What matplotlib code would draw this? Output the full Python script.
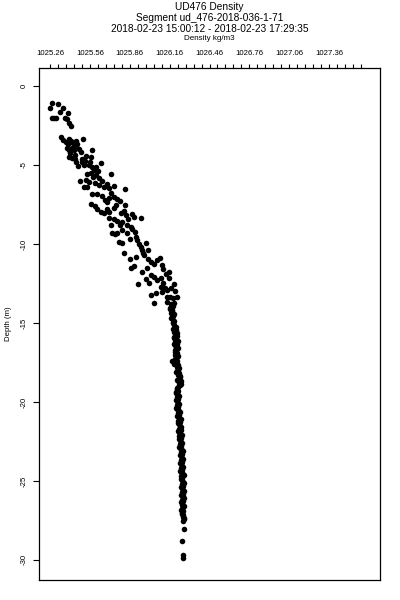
import numpy as np
import matplotlib
matplotlib.use("Agg")
import matplotlib.pyplot as plt

plt.rcParams['font.family'] = ['Liberation Sans', 'DejaVu Sans']

title_lines = ["UD476 Density",
               "Segment ud_476-2018-036-1-71",
               "2018-02-23 15:00:12 - 2018-02-23 17:29:35"]
x_label = "Density kg/m3"
y_label = "Depth (m)"
x_tick_labels = ["1025.26", "1025.56", "1025.86", "1026.16",
                 "1026.46", "1026.76", "1027.06", "1027.36"]
y_ticks = [0, -5, -10, -15, -20, -25, -30]

# upper, scattered part of the profile
upper_density = [
    1025.260, 1025.273, 1025.322, 1025.360, 1025.335, 1025.273, 1025.290, 1025.307,
    1025.373, 1025.390, 1025.395, 1025.403, 1025.420, 1025.340, 1025.360, 1025.403,
    1025.418, 1025.433, 1025.448, 1025.403, 1025.425, 1025.440, 1025.478, 1025.510,
    1025.578, 1025.566, 1025.403, 1025.425, 1025.448, 1025.500, 1025.453, 1025.470,
    1025.498, 1025.516, 1025.553, 1025.576, 1025.591, 1025.641, 1025.623, 1025.566,
    1025.583, 1025.604, 1025.716, 1025.486, 1025.531, 1025.553, 1025.653, 1025.516,
    1025.538, 1025.628, 1025.666, 1025.704, 1025.741, 1025.822, 1025.576, 1025.613,
    1025.741, 1025.764, 1025.674, 1025.689, 1025.566, 1025.759, 1025.822, 1025.613,
    1025.689, 1025.700, 1025.666, 1025.641, 1025.792, 1025.829, 1025.877, 1025.892,
    1025.741, 1025.764, 1025.786, 1025.801, 1025.716, 1025.942, 1025.839, 1025.867,
    1025.726, 1025.749, 1025.764, 1025.779, 1025.801, 1025.904, 1025.914, 1025.929,
    1025.944, 1025.954, 1025.979, 1025.817, 1025.904, 1025.967, 1025.997, 1026.020,
    1026.042, 1026.065, 1026.102, 1026.155, 1025.867, 1025.892, 1025.954, 1026.017,
    1026.042, 1026.065, 1026.093, 1026.155, 1025.924, 1026.004, 1026.093, 1026.125,
    1026.140, 1026.168, 1026.017, 1026.055, 1026.140, 1026.163, 1026.185, 1026.215,
    1026.042, 1026.142, 1026.168, 1026.178, 1026.192, 1026.170, 1026.185, 1026.205,
    1025.380, 1025.395, 1025.455, 1025.465, 1025.385, 1025.410, 1025.490, 1025.445,
    1025.530, 1025.520, 1025.560, 1025.605, 1025.540, 1025.630, 1025.600, 1025.690,
    1025.720, 1025.650, 1025.700, 1025.785, 1025.600, 1025.740, 1025.820, 1025.700,
    1025.800, 1025.850, 1025.880, 1025.840, 1025.900, 1025.860, 1025.960, 1026.000,
    1026.085, 1025.860, 1025.990, 1026.110, 1026.130, 1025.980, 1026.110, 1026.190,
    1026.200, 1026.100, 1026.190, 1026.165,
]
upper_depth = [
    -1.39, -1.06, -1.16, -1.37, -1.66, -2.01, -2.01, -2.01,
    -2.01, -2.11, -1.73, -2.36, -2.51, -3.25, -3.42, -3.35,
    -3.48, -3.61, -3.80, -4.05, -3.92, -4.05, -3.99, -3.35,
    -4.05, -4.47, -4.49, -4.56, -4.62, -4.62, -4.81, -5.06,
    -4.81, -5.00, -5.00, -5.13, -5.32, -4.89, -5.38, -5.51,
    -5.74, -5.63, -5.59, -6.01, -5.95, -6.08, -6.01, -6.37,
    -6.37, -6.27, -6.39, -6.46, -6.33, -6.54, -6.84, -6.84,
    -7.03, -7.15, -7.22, -7.34, -7.47, -7.53, -7.53, -7.78,
    -7.78, -7.95, -8.04, -7.96, -8.04, -8.16, -8.10, -8.29,
    -8.42, -8.54, -8.80, -9.11, -8.80, -8.37, -8.80, -8.92,
    -9.30, -9.37, -9.30, -9.85, -9.96, -9.54, -9.75, -10.00,
    -10.19, -10.38, -9.96, -10.59, -10.80, -10.70, -10.95, -11.14,
    -11.27, -11.01, -11.33, -11.75, -11.52, -11.39, -11.75, -11.96,
    -12.09, -12.28, -12.15, -12.17, -12.53, -12.45, -12.70, -12.78,
    -12.91, -12.78, -13.23, -13.10, -13.34, -13.35, -13.42, -13.35,
    -13.72, -13.65, -13.97, -14.18, -14.43, -14.68, -14.94, -15.23,
    -3.55, -3.70, -3.45, -3.70, -3.95, -4.25, -4.20, -4.35,
    -4.40, -4.75, -4.80, -5.10, -5.55, -5.85, -6.15, -6.20,
    -6.75, -6.95, -7.10, -7.30, -7.60, -7.75, -7.90, -8.35,
    -8.60, -8.45, -9.05, -9.30, -9.25, -9.70, -10.55, -10.40,
    -10.90, -10.95, -11.55, -11.60, -11.90, -12.20, -12.45, -12.55,
    -12.95, -13.05, -13.75, -14.05,
]

# lower, well-mixed part of the profile
lower_density = [
    1026.170, 1026.182, 1026.165, 1026.178, 1026.170, 1026.185, 1026.176, 1026.190,
    1026.182, 1026.195, 1026.198, 1026.210, 1026.192, 1026.205, 1026.214, 1026.196,
    1026.208, 1026.200, 1026.215, 1026.203, 1026.211, 1026.198, 1026.210, 1026.218,
    1026.204, 1026.212, 1026.200, 1026.175, 1026.215, 1026.208, 1026.220, 1026.212,
    1026.226, 1026.218, 1026.230, 1026.222, 1026.240, 1026.232, 1026.245, 1026.228,
    1026.236, 1026.222, 1026.215, 1026.226, 1026.210, 1026.220, 1026.213, 1026.225,
    1026.216, 1026.222, 1026.212, 1026.226, 1026.218, 1026.230, 1026.222, 1026.234,
    1026.225, 1026.232, 1026.224, 1026.236, 1026.228, 1026.238, 1026.230, 1026.242,
    1026.232, 1026.240, 1026.234, 1026.244, 1026.236, 1026.246, 1026.238, 1026.248,
    1026.240, 1026.250, 1026.242, 1026.252, 1026.244, 1026.250, 1026.242, 1026.254,
    1026.246, 1026.256, 1026.244, 1026.252, 1026.246, 1026.258, 1026.248, 1026.256,
    1026.250, 1026.260, 1026.252, 1026.258, 1026.250, 1026.260, 1026.252, 1026.262,
    1026.254, 1026.260, 1026.252, 1026.262, 1026.255, 1026.250, 1026.258, 1026.252,
    1026.262, 1026.256, 1026.264, 1026.258, 1026.266, 1026.262, 1026.266, 1026.256,
    1026.260, 1026.260,
    1026.188, 1026.215, 1026.190, 1026.220, 1026.192, 1026.222, 1026.198, 1026.222,
    1026.196, 1026.230, 1026.206, 1026.236, 1026.218, 1026.246, 1026.212, 1026.205,
    1026.228, 1026.206, 1026.232, 1026.210, 1026.240, 1026.216, 1026.244, 1026.220,
    1026.248, 1026.224, 1026.250, 1026.228, 1026.254, 1026.232, 1026.258, 1026.236,
    1026.260, 1026.238, 1026.264, 1026.240, 1026.266, 1026.242, 1026.268, 1026.244,
    1026.268, 1026.246, 1026.268, 1026.246, 1026.266, 1026.246, 1026.250, 1026.268,
]
lower_depth = [
    -13.80, -13.95, -14.10, -14.25, -14.40, -14.55, -14.70, -14.85,
    -15.00, -15.15, -15.30, -15.42, -15.55, -15.68, -15.80, -15.92,
    -16.05, -16.18, -16.30, -16.42, -16.55, -16.68, -16.80, -16.92,
    -17.05, -17.18, -17.30, -17.40, -17.42, -17.55, -17.68, -17.80,
    -17.92, -18.05, -18.18, -18.30, -18.42, -18.55, -18.68, -18.80,
    -18.92, -19.05, -19.18, -19.30, -19.42, -19.55, -19.68, -19.80,
    -19.92, -20.05, -20.18, -20.30, -20.42, -20.55, -20.68, -20.80,
    -20.92, -21.05, -21.18, -21.30, -21.42, -21.55, -21.68, -21.80,
    -21.92, -22.05, -22.18, -22.30, -22.42, -22.55, -22.68, -22.80,
    -22.92, -23.05, -23.18, -23.30, -23.42, -23.55, -23.68, -23.80,
    -23.92, -24.05, -24.18, -24.30, -24.42, -24.55, -24.68, -24.80,
    -24.92, -25.05, -25.18, -25.30, -25.42, -25.55, -25.68, -25.80,
    -25.92, -26.05, -26.18, -26.30, -26.42, -26.55, -26.68, -26.80,
    -26.92, -27.05, -27.18, -27.30, -27.42, -27.55, -28.05, -28.80,
    -29.70, -29.90,
    -15.36, -15.61, -15.86, -16.11, -16.36, -16.61, -16.86, -17.11,
    -17.61, -17.86, -18.11, -18.36, -18.61, -18.86, -19.11, -19.36,
    -19.61, -19.86, -20.11, -20.36, -20.61, -20.86, -21.11, -21.36,
    -21.61, -21.86, -22.11, -22.36, -22.61, -22.86, -23.11, -23.36,
    -23.61, -23.86, -24.11, -24.36, -24.61, -24.86, -25.11, -25.36,
    -25.61, -25.86, -26.11, -26.36, -26.61, -26.86, -27.11, -27.36,
]

fig = plt.figure(figsize=(4, 6), dpi=100)
ax = fig.add_axes([39 / 400, 20 / 600, 341 / 400, 512 / 600])

ax.plot(upper_density, upper_depth, 'o', color='black', markersize=4.0, markeredgewidth=0)
ax.plot(lower_density, lower_depth, 'o', color='black', markersize=4.0, markeredgewidth=0)

ax.set_xlim(1025.177, 1027.743)
ax.set_ylim(-31.27, 1.14)

x_ticks = [float(t) for t in x_tick_labels]
ax.set_xticks(x_ticks)
ax.set_xticklabels(x_tick_labels, fontsize=5.6)
ax.set_xticks(np.arange(1025.26, 1027.61, 0.06), minor=True)
ax.xaxis.tick_top()
ax.tick_params(axis='x', which='both', direction='out', length=3, width=0.8, pad=5)

ax.set_yticks(y_ticks)
ax.set_yticklabels([str(t) for t in y_ticks], fontsize=5.6, rotation=90, va='center')
ax.tick_params(axis='y', direction='out', length=4, width=0.8, pad=4)

for s in ax.spines.values():
    s.set_linewidth(0.9)

fig.text(8 / 400, 1 - 324 / 600, y_label, rotation=90, fontsize=5.6, ha='center', va='center')
fig.text(209.5 / 400, 1 - 39 / 600, x_label, fontsize=5.8, ha='center', va='center')
for line, yp in zip(title_lines, [7, 18, 29]):
    fig.text(209.5 / 400, 1 - yp / 600, line, fontsize=7.3, ha='center', va='center')

fig.savefig("out.png", dpi=100)
